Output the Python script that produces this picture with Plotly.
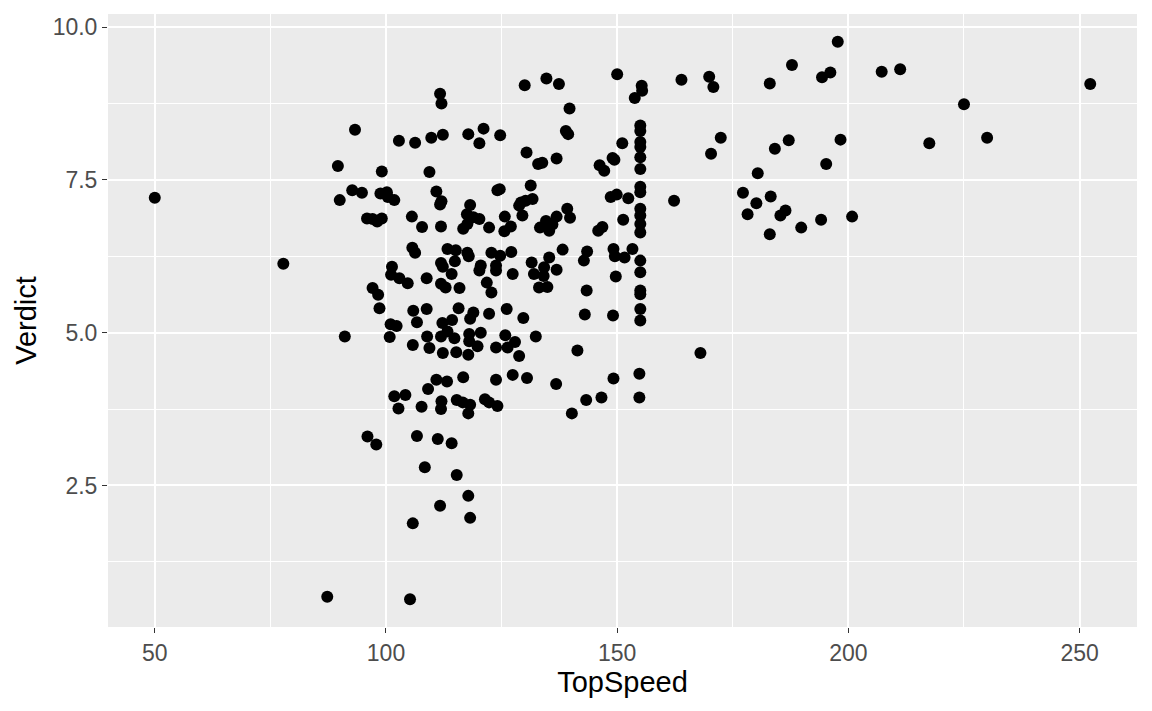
import plotly.graph_objects as go

top_speed = [
    50.0, 77.8, 87.3, 105.2, 91.1,
    111.7, 112.0, 93.3, 102.8, 106.3, 109.8, 112.3, 117.8, 121.1, 120.2, 124.7,
    89.6, 99.1, 109.4, 92.7, 94.8, 90.0, 98.8, 100.2, 100.4, 101.8, 110.9, 112.0, 111.7,
    124.1, 95.9, 97.1, 98.1, 99.1, 105.6, 107.8, 111.9, 118.2, 117.5, 118.9, 120.2,
    117.6, 116.7, 122.3, 105.7, 106.3, 113.3, 115.1, 117.6, 117.9, 122.8, 111.9, 112.3,
    114.9, 120.5, 120.2, 123.8, 123.8, 101.3, 101.1, 102.9, 104.7, 108.8, 114.2, 111.9,
    112.9, 115.9, 121.8, 122.8, 97.1, 98.3, 98.6, 105.9, 108.8, 115.7, 118.9, 122.3,
    118.2, 101.0, 102.3, 100.8, 106.7, 112.2, 114.3, 105.8, 108.9, 109.4, 111.9, 113.3,
    114.8, 112.3, 115.2, 118.0, 118.0, 119.8, 120.5, 117.8, 123.8, 110.9, 113.2, 109.1,
    116.7, 123.8, 101.8, 104.2, 102.7, 107.7, 112.0, 111.9, 115.3, 116.6, 118.2, 117.8,
    121.4, 122.3, 124.1, 96.0, 97.9, 106.7, 111.2, 114.2, 108.4, 115.3, 117.8, 111.7,
    118.2, 105.8,
    130.0, 134.7, 137.4, 150.0, 155.3, 155.4, 153.8, 163.9, 169.9, 170.8, 183.0, 139.7,
    138.9, 139.4, 130.4, 132.9, 133.8, 136.9, 146.2, 147.2, 149.0, 149.4, 151.1,
    155.0, 155.0, 155.0, 155.0, 155.0, 155.0, 155.0, 155.0, 155.0, 155.0, 155.0, 155.0,
    155.0, 155.0, 155.0, 155.0, 155.0, 155.0,
    172.4, 170.3, 184.1, 180.4, 177.2, 180.1, 178.2, 183.2, 185.3, 186.4, 183.0, 162.3,
    148.6, 149.9, 152.4, 151.3, 145.9, 146.8, 131.3, 124.6, 131.7, 129.2, 130.2, 128.8,
    129.5, 125.7, 125.6, 127.0, 133.3, 134.6, 135.3, 136.0, 136.9, 139.2, 139.8, 124.7,
    127.1, 127.4, 131.5, 132.0, 135.3, 134.2, 134.1, 136.9, 138.2, 133.1, 134.9, 143.5,
    142.8, 143.4, 149.2, 149.5, 151.6, 153.3, 149.7, 126.1, 129.7, 143.0, 149.1,
    125.8, 126.3, 127.9, 128.8, 132.4, 141.4, 168.0, 127.4, 130.5, 136.8, 149.2, 154.8,
    140.2, 143.3, 146.6, 154.8,
    197.7, 187.8, 194.3, 196.1, 207.2, 211.2, 252.3, 225.0, 217.5, 230.0, 187.1, 198.3,
    195.2, 189.8, 194.1, 200.8,
]

verdict = [
    7.21, 6.13, 0.68, 0.64, 4.94,
    8.91, 8.75, 8.32, 8.14, 8.11, 8.19, 8.24, 8.25, 8.34, 8.10, 8.23,
    7.73, 7.64, 7.63, 7.33, 7.29, 7.17, 7.28, 7.30, 7.22, 7.17, 7.31, 7.15, 7.10,
    7.33, 6.87, 6.86, 6.82, 6.87, 6.90, 6.73, 6.74, 7.09, 6.94, 6.89, 6.86,
    6.78, 6.70, 6.72, 6.39, 6.31, 6.37, 6.35, 6.31, 6.25, 6.31, 6.14, 6.08,
    6.17, 6.10, 6.02, 6.10, 6.02, 6.08, 5.95, 5.89, 5.81, 5.89, 5.96, 5.80,
    5.74, 5.73, 5.82, 5.66, 5.73, 5.62, 5.40, 5.36, 5.39, 5.40, 5.33, 5.31,
    5.23, 5.14, 5.11, 4.93, 5.17, 5.16, 5.21, 4.80, 4.94, 4.75, 4.94, 5.02,
    4.91, 4.67, 4.68, 4.98, 4.86, 4.78, 5.00, 4.64, 4.76, 4.23, 4.20, 4.08,
    4.27, 4.23, 3.96, 3.98, 3.76, 3.79, 3.88, 3.75, 3.90, 3.86, 3.82, 3.68,
    3.91, 3.86, 3.80, 3.30, 3.17, 3.31, 3.26, 3.19, 2.80, 2.67, 2.33, 2.17,
    1.97, 1.88,
    9.05, 9.16, 9.07, 9.23, 9.04, 8.96, 8.84, 9.14, 9.19, 9.02, 9.08, 8.67,
    8.30, 8.25, 7.95, 7.76, 7.78, 7.85, 7.74, 7.65, 7.86, 7.83, 8.10,
    8.39, 8.30, 8.12, 8.04, 7.87, 7.68, 7.39, 7.30, 7.03, 6.92, 6.78, 6.64,
    6.18, 5.99, 5.69, 5.63, 5.39, 5.20,
    8.19, 7.93, 8.01, 7.61, 7.29, 7.12, 6.94, 7.23, 6.92, 7.00, 6.61, 7.16,
    7.22, 7.26, 7.20, 6.85, 6.67, 6.73, 7.41, 7.35, 7.19, 7.13, 7.16, 7.08,
    6.92, 6.90, 6.66, 6.74, 6.72, 6.83, 6.67, 6.77, 6.90, 7.03, 6.88, 6.26,
    6.32, 5.96, 6.15, 5.96, 6.23, 6.07, 5.93, 6.03, 6.36, 5.74, 5.75, 6.33,
    6.18, 5.69, 6.37, 6.25, 6.23, 6.37, 5.92, 5.39, 5.24, 5.30, 5.28,
    4.96, 4.76, 4.85, 4.62, 4.94, 4.71, 4.67, 4.31, 4.26, 4.16, 4.25, 4.33,
    3.68, 3.90, 3.94, 3.94,
    9.76, 9.38, 9.18, 9.26, 9.27, 9.31, 9.07, 8.74, 8.10, 8.19, 8.15, 8.16,
    7.76, 6.72, 6.85, 6.90,
]

x_major = [50, 100, 150, 200, 250]
x_minor = [75, 125, 175, 225]
y_major = [2.5, 5.0, 7.5, 10.0]
y_minor = [1.25, 3.75, 6.25, 8.75]

fig = go.Figure(
    go.Scatter(
        x=top_speed, y=verdict, mode="markers",
        marker=dict(color="black", size=12, line=dict(width=0)),
        showlegend=False,
    )
)

font_family = "Liberation Sans, Arial, Helvetica, sans-serif"
axis_common = dict(
    showgrid=True, gridcolor="white", gridwidth=2.1,
    zeroline=False, showline=False, automargin=False,
    ticks="outside", ticklen=5, tickwidth=1.1, tickcolor="#333333",
    tickfont=dict(family=font_family, size=23, color="#4D4D4D"),
)

xmin, xmax = min(top_speed), max(top_speed)
ymin, ymax = min(verdict), max(verdict)
xpad = (xmax - xmin) * 0.05
ypad = (ymax - ymin) * 0.05

fig.update_xaxes(
    **axis_common,
    range=[xmin - xpad, xmax + xpad],
    tickvals=x_major, ticktext=[str(v) for v in x_major],
    minor=dict(tickvals=x_minor, showgrid=True, gridcolor="white", gridwidth=1, ticks=""),
    title=dict(text="TopSpeed", font=dict(family=font_family, size=29, color="black"), standoff=6),
)
fig.update_yaxes(
    **axis_common,
    range=[ymin - ypad, ymax + ypad],
    tickvals=y_major, ticktext=["%.1f" % v for v in y_major],
    minor=dict(tickvals=y_minor, showgrid=True, gridcolor="white", gridwidth=1, ticks=""),
    title=dict(text="Verdict", font=dict(family=font_family, size=29, color="black"), standoff=7),
)

fig.update_layout(
    width=1144, height=703,
    margin=dict(l=100, r=15, t=6, b=84),
    paper_bgcolor="white", plot_bgcolor="#EBEBEB",
    font=dict(family=font_family),
)

fig.write_html("out.html")
